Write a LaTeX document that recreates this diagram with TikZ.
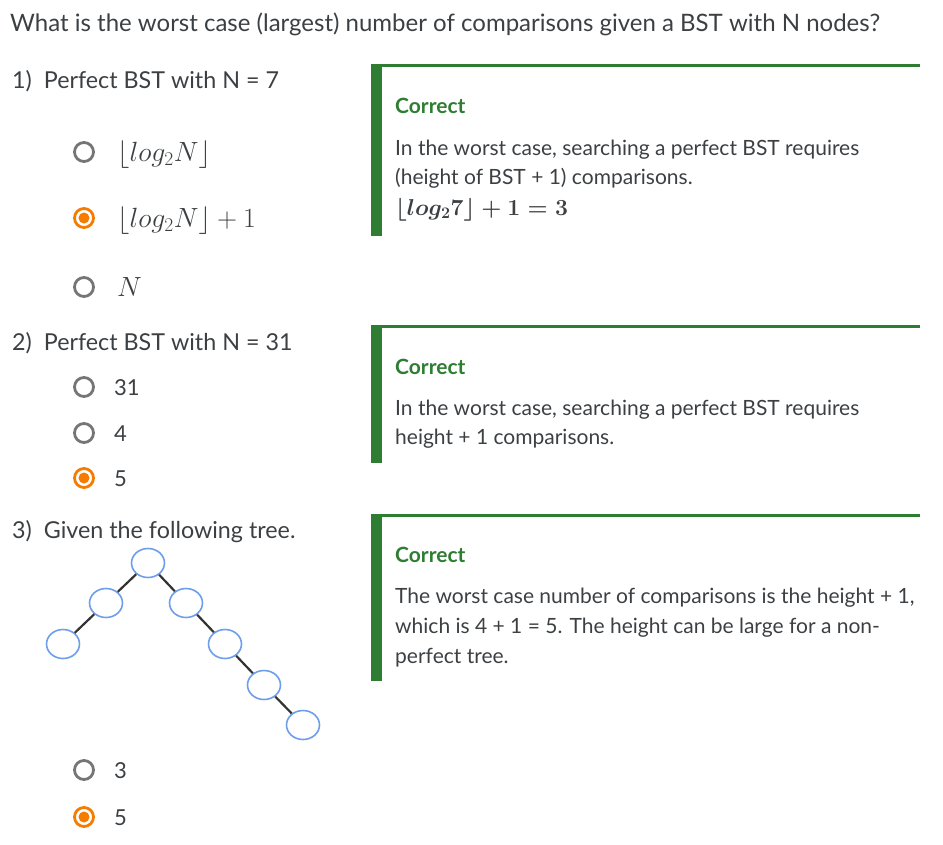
\RequirePackage{fix-cm}
\documentclass[tikz,border=0pt]{standalone}
\usepackage{fontspec}
\setmainfont{Lato}
\usepackage{tikz}
\definecolor{gray500}{HTML}{757575}
\definecolor{orange700}{HTML}{F57C00}
\definecolor{green800}{HTML}{2E7D32}
\definecolor{textgray}{HTML}{3C4043}
\definecolor{blue300}{HTML}{6D9EEB}
\definecolor{edgegray}{HTML}{333333}
\usetikzlibrary{shapes.geometric}
\tikzstyle{radio}=[circle, draw=gray500, line width=2.8pt, minimum size=19pt, inner sep=0pt]
\tikzstyle{radiosel}=[radio, draw=orange700, path picture={\fill[orange700] (path picture bounding box.center) circle (5.5pt);}]
\tikzstyle{txt}=[anchor=base west, inner sep=0pt, text=textgray, font=\fontsize{22}{26}\selectfont]
\tikzstyle{formula}=[txt, font=\fontsize{27.8}{32}\selectfont]
\tikzstyle{question}=[txt, font=\fontsize{23.3}{28}\selectfont]
\tikzstyle{heading}=[txt, font=\fontsize{24}{29}\selectfont]
\tikzstyle{note}=[txt, font=\fontsize{21}{25}\selectfont]
\tikzstyle{notemath}=[txt, font=\fontsize{23}{30}\selectfont\boldmath]
\tikzstyle{verdict}=[note, text=green800, font=\fontsize{21}{25}\selectfont\bfseries]
\tikzstyle{vertice}=[ellipse, draw=blue300, fill=white, line width=1.6pt, minimum width=33pt, minimum height=29pt, inner sep=0pt]
\tikzstyle{edge}=[draw=edgegray, line width=2.2pt]

\begin{document}
\begin{tikzpicture}[x=1pt, y=-1pt]
			\useasboundingbox (0,0) rectangle (943,844);
			\node[heading] (title) at (10,31) {What is the worst case (largest) number of comparisons given a BST with N nodes?};

			\node[question] (q1) at (12,88) {1)\ \ Perfect BST with N = 7};
			\node[radio]    (r11) at (84,152) {};
			\node[radiosel] (r12) at (84,218) {};
			\node[radio]    (r13) at (84,287) {};
			\node[formula] (a11) at (117,161) {$\lfloor log_2 N\rfloor$};
			\node[formula] (a12) at (117,227) {$\lfloor log_2 N\rfloor + 1$};
			\node[formula] (a13) at (117,296) {$N$};
			\fill[green800] (371,64) rectangle (382,236);
			\fill[green800] (371,64) rectangle (920,67);
			\node[verdict] (c1) at (395,113) {Correct};
			\node[note] (e11) at (395,155) {In the worst case, searching a perfect BST requires};
			\node[note] (e12) at (395,184) {(height of BST + 1) comparisons.};
			\node[notemath] (e13) at (395,215) {$\lfloor log_2 7\rfloor + 1 = 3$};

			\node[question] (q2) at (12,350) {2)\ \ Perfect BST with N = 31};
			\node[radio]    (r21) at (84,387) {};
			\node[radio]    (r22) at (84,433) {};
			\node[radiosel] (r23) at (84,478) {};
			\node[txt] (a21) at (114,395) {31};
			\node[txt] (a22) at (114,441) {4};
			\node[txt] (a23) at (114,486) {5};
			\fill[green800] (371,325) rectangle (382,463);
			\fill[green800] (371,325) rectangle (920,328);
			\node[verdict] (c2) at (395,374) {Correct};
			\node[note] (e21) at (395,415) {In the worst case, searching a perfect BST requires};
			\node[note] (e22) at (395,444) {height + 1 comparisons.};

			\node[question] (q3) at (12,538) {3)\ \ Given the following tree.};
			\node[vertice] (t1) at (148,563) {};
			\node[vertice] (t2) at (106,603) {};
			\node[vertice] (t3) at ( 63,644) {};
			\node[vertice] (t4) at (186,603) {};
			\node[vertice] (t5) at (225,644) {};
			\node[vertice] (t6) at (264,685) {};
			\node[vertice] (t7) at (303,725) {};
			\path[edge] (t3)--(t2)--(t1)--(t4)--(t5)--(t6)--(t7);
			\node[radio]    (r31) at (84,770) {};
			\node[radiosel] (r32) at (84,817) {};
			\node[txt] (a31) at (114,778) {3};
			\node[txt] (a32) at (114,825) {5};
			\fill[green800] (371,514) rectangle (382,681);
			\fill[green800] (371,514) rectangle (920,517);
			\node[verdict] (c3) at (395,562) {Correct};
			\node[note] (e31) at (395,603) {The worst case number of comparisons is the height + 1,};
			\node[note] (e32) at (395,633) {which is 4 + 1 = 5. The height can be large for a non-};
			\node[note] (e33) at (395,663) {perfect tree.};
		\end{tikzpicture}
\end{document}
